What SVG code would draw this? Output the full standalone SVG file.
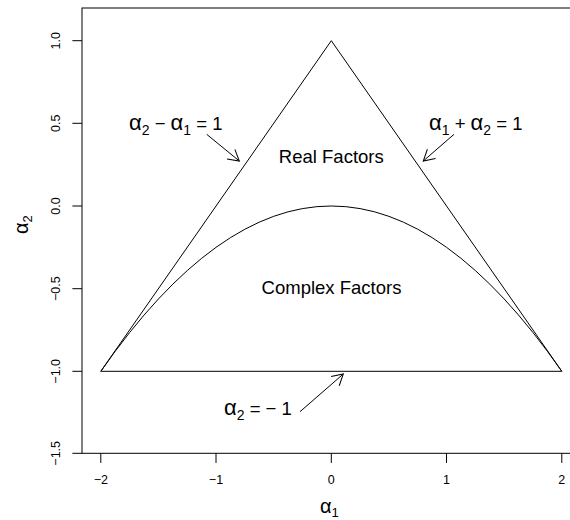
<svg xmlns="http://www.w3.org/2000/svg" width="570" height="520" viewBox="0 0 570 520">
<style>
.ln{fill:none;stroke:#000;stroke-width:1}
.tk{font-family:"Liberation Sans",Arial,sans-serif;font-size:12.5px;fill:#000}
.lb{font-family:"Liberation Sans",Arial,sans-serif;font-size:18.5px;fill:#000}
.ax{font-family:"Liberation Sans",Arial,sans-serif;font-size:20px;fill:#000}
.ga{font-size:22px}
.sb{font-size:14px}
</style>
<defs>
<marker id="ah" markerUnits="userSpaceOnUse" markerWidth="30" markerHeight="30" refX="0" refY="0" viewBox="-15 -15 30 30" orient="auto" overflow="visible">
<path d="M-10.8,-6.2 L0,0 L-10.8,6.2" fill="none" stroke="#000" stroke-width="1"/>
</marker>
</defs>
<rect width="570" height="520" fill="#fff"/>
<g id="axes">
<rect class="ln" x="82" y="8" width="500" height="445.3"/>
<path class="ln" d="M100.8,453.3V462.9M216,453.3V462.9M331.3,453.3V462.9M446.5,453.3V462.9M561.8,453.3V462.9"/>
<path class="ln" d="M82,40.7H72.4M82,123.3H72.4M82,206H72.4M82,288.7H72.4M82,371.3H72.4M82,453.3H72.4"/>
<g class="tk" text-anchor="middle">
<text x="100.8" y="484">−2</text>
<text x="216" y="484">−1</text>
<text x="331.3" y="484">0</text>
<text x="446.5" y="484">1</text>
<text x="561.8" y="484">2</text>
<text transform="translate(60,40.7) rotate(-90)">1.0</text>
<text transform="translate(60,123.3) rotate(-90)">0.5</text>
<text transform="translate(60,206) rotate(-90)">0.0</text>
<text transform="translate(60,288.7) rotate(-90)">−0.5</text>
<text transform="translate(60,371.3) rotate(-90)">−1.0</text>
<text transform="translate(60,453.3) rotate(-90)">−1.5</text>
</g>
<text class="ax" x="320" y="513">α<tspan font-size="13" dy="3.5">1</tspan></text>
<text class="ax" transform="translate(28,234) rotate(-90)">α<tspan font-size="13" dy="3.5">2</tspan></text>
</g>
<g id="triangle">
<path class="ln" d="M100.8,371.3 L331.3,40.7 L561.8,371.3 Z"/>
</g>
<g id="parabola">
<path class="ln" d="M100.8,371.3 Q331.3,40.7 561.8,371.3"/>
</g>
<g id="real-factors">
<text class="lb" x="331.3" y="163" text-anchor="middle">Real Factors</text>
</g>
<g id="complex-factors">
<text class="lb" x="331.5" y="293.5" text-anchor="middle">Complex Factors</text>
</g>
<g id="label-left">
<text class="lb" x="129" y="130"><tspan class="ga">α</tspan><tspan class="sb" dy="5">2</tspan><tspan dy="-5"> − </tspan><tspan class="ga">α</tspan><tspan class="sb" dy="5">1</tspan><tspan dy="-5"> = 1</tspan></text>
</g>
<g id="label-right">
<text class="lb" x="429" y="130"><tspan class="ga">α</tspan><tspan class="sb" dy="5">1</tspan><tspan dy="-5"> + </tspan><tspan class="ga">α</tspan><tspan class="sb" dy="5">2</tspan><tspan dy="-5"> = 1</tspan></text>
</g>
<g id="label-bottom">
<text class="lb" x="224" y="415"><tspan class="ga">α</tspan><tspan class="sb" dy="5">2</tspan><tspan dy="-5"> = − 1</tspan></text>
</g>
<g id="connectors">
<path class="ln" d="M206.7,134.3 L239.3,161" marker-end="url(#ah)"/>
<path class="ln" d="M454,134.3 L423.3,161" marker-end="url(#ah)"/>
<path class="ln" d="M300,411.7 L343.3,374" marker-end="url(#ah)"/>
</g>
</svg>
